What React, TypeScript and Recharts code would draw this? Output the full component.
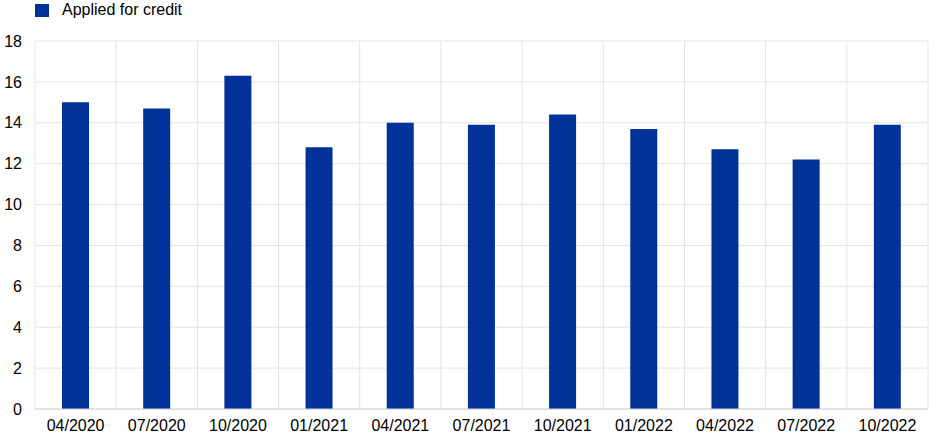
import { BarChart, Bar, XAxis, YAxis, CartesianGrid } from 'recharts';

const periods = ['04/2020', '07/2020', '10/2020', '01/2021', '04/2021', '07/2021', '10/2021', '01/2022', '04/2022', '07/2022', '10/2022'];
const appliedForCredit = [15.0, 14.7, 16.3, 12.8, 14.0, 13.9, 14.4, 13.7, 12.7, 12.2, 13.9];
const yTicks = [0, 2, 4, 6, 8, 10, 12, 14, 16, 18];

const data = periods.map((p, i) => ({ period: p, applied: appliedForCredit[i] }));

const FONT = '"Liberation Sans", Arial, sans-serif';
const BLUE = '#003299';

// legend drawn as plain html so it doesn't push the plot area down
const LegendBox = () => (
  <div style={{ position: 'absolute', left: 35, top: 1, display: 'flex', alignItems: 'center', fontFamily: FONT, fontSize: 16, color: '#000' }}>
    <span style={{ width: 14, height: 13, background: BLUE, display: 'inline-block', marginRight: 13 }} />
    <span>Applied for credit</span>
  </div>
);

export default function App() {
  return (
    <div style={{ position: 'absolute', left: 0, top: 0, width: 948, height: 447, background: '#fff' }}>
      <BarChart width={948} height={447} data={data} margin={{ top: 41, right: 20, bottom: 0, left: 0 }} barCategoryGap={0}>
        <CartesianGrid
          stroke="#e3e3e3"
          verticalCoordinatesGenerator={({ offset }: any) =>
            periods.map((_, i) => offset.left + (i * offset.width) / periods.length).concat(offset.left + offset.width)
          }
        />
        <XAxis
          dataKey="period"
          tickLine={false}
          tickSize={0}
          tickMargin={11}
          height={38}
          axisLine={{ stroke: '#d4d4d4' }}
          tick={{ fill: '#000', fontSize: 16, fontFamily: FONT }}
          interval={0}
        />
        <YAxis
          domain={[0, 18]}
          ticks={yTicks}
          width={35}
          tickLine={false}
          axisLine={false}
          tickSize={0}
          tickMargin={13}
          tick={{ fill: '#000', fontSize: 16, fontFamily: FONT }}
        />
        <Bar dataKey="applied" fill={BLUE} barSize={27} isAnimationActive={false} />
      </BarChart>
      <LegendBox />
    </div>
  );
}
